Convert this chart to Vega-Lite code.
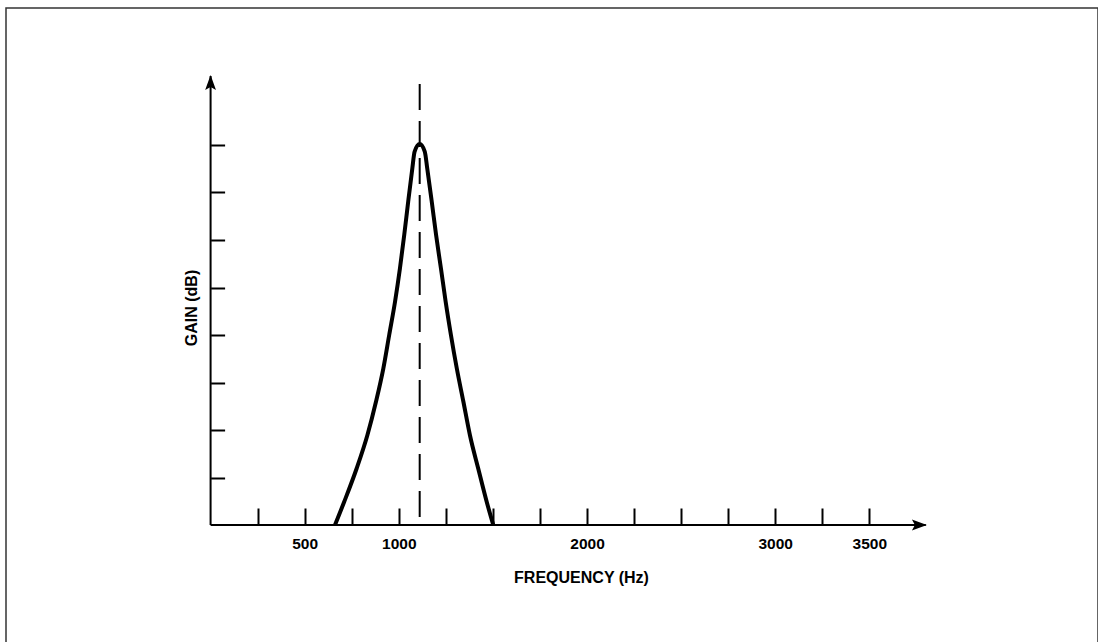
{
  "$schema": "https://vega.github.io/schema/vega-lite/v6.json",
  "width": 1092,
  "height": 640,
  "padding": {"left": 6, "top": 8, "right": 0, "bottom": 0},
  "background": "white",
  "config": {
    "view": {"stroke": "#333333", "strokeWidth": 1.5, "fill": "white"},
    "font": "Liberation Sans"
  },
  "encoding": {
    "x": {
      "field": "hz",
      "type": "quantitative",
      "scale": {"domain": [-1087, 4715], "nice": false, "zero": false},
      "axis": {
        "title": "FREQUENCY (Hz)",
        "values": [250, 500, 750, 1000, 1250, 1500, 1750, 2000, 2250, 2500, 2750, 3000, 3250, 3500],
        "labelExpr": "indexof([500,1000,2000,3000,3500], datum.value) >= 0 ? datum.value : ''",
        "offset": -123,
        "domain": false,
        "grid": false,
        "tickSize": -17,
        "tickWidth": 2,
        "tickColor": "black",
        "labelPadding": 28,
        "labelFont": "Liberation Sans",
        "labelFontWeight": "bold",
        "labelFontSize": 15.5,
        "labelColor": "black",
        "titleFont": "Liberation Sans",
        "titleFontWeight": "bold",
        "titleFontSize": 16,
        "titleColor": "black",
        "titleX": 575,
        "titleY": 57,
        "titleBaseline": "alphabetic",
        "titleAlign": "center"
      }
    },
    "y": {
      "field": "gain",
      "type": "quantitative",
      "scale": {"domain": [-2.589, 10.884], "nice": false, "zero": false},
      "axis": {
        "title": "GAIN (dB)",
        "values": [1, 2, 3, 4, 5, 6, 7, 8],
        "labels": false,
        "offset": -204.6,
        "domain": false,
        "grid": false,
        "tickSize": -14,
        "tickWidth": 2,
        "tickColor": "black",
        "titleFont": "Liberation Sans",
        "titleFontWeight": "bold",
        "titleFontSize": 16,
        "titleColor": "black",
        "titleX": -14,
        "titleY": 299.5,
        "titleAngle": 270,
        "titleBaseline": "alphabetic",
        "titleAlign": "center"
      }
    }
  },
  "layer": [
    {
      "data": {"values": [
        {"hz": 0, "gain": 0, "hz2": 3800, "gain2": 0},
        {"hz": 0, "gain": 0, "hz2": 0, "gain2": 9.45}
      ]},
      "mark": {"type": "rule", "stroke": "black", "strokeWidth": 2},
      "encoding": {
        "x2": {"field": "hz2"},
        "y2": {"field": "gain2"}
      }
    },
    {
      "data": {"values": [
        {"hz": 1111, "gain": 9.284, "gain2": 0}
      ]},
      "mark": {"type": "rule", "stroke": "black", "strokeWidth": 2, "strokeDash": [26, 11]},
      "encoding": {
        "y2": {"field": "gain2"}
      }
    },
    {
      "data": {"values": [
        {"hz": 661, "gain": 0},
        {"hz": 710, "gain": 0.49},
        {"hz": 776, "gain": 1.19},
        {"hz": 833, "gain": 1.89},
        {"hz": 879, "gain": 2.6},
        {"hz": 918, "gain": 3.3},
        {"hz": 949, "gain": 4.0},
        {"hz": 980, "gain": 4.7},
        {"hz": 1006, "gain": 5.4},
        {"hz": 1029, "gain": 6.11},
        {"hz": 1050, "gain": 6.81},
        {"hz": 1072, "gain": 7.51},
        {"hz": 1084, "gain": 7.86},
        {"hz": 1111, "gain": 8.02},
        {"hz": 1138, "gain": 7.86},
        {"hz": 1151, "gain": 7.51},
        {"hz": 1175, "gain": 6.81},
        {"hz": 1198, "gain": 6.11},
        {"hz": 1224, "gain": 5.4},
        {"hz": 1249, "gain": 4.7},
        {"hz": 1277, "gain": 4.0},
        {"hz": 1308, "gain": 3.3},
        {"hz": 1343, "gain": 2.6},
        {"hz": 1378, "gain": 1.89},
        {"hz": 1422, "gain": 1.19},
        {"hz": 1467, "gain": 0.49},
        {"hz": 1502, "gain": 0}
      ]},
      "mark": {"type": "line", "stroke": "black", "strokeWidth": 4, "interpolate": "monotone", "strokeJoin": "round"}
    },
    {
      "data": {"values": [{"hz": 3806, "gain": 0}]},
      "mark": {"type": "point", "shape": "M0,0L-1,-0.36L-0.8,0L-1,0.36Z", "size": 900, "filled": true, "color": "black", "opacity": 1, "strokeWidth": 0}
    },
    {
      "data": {"values": [{"hz": 0, "gain": 9.474}]},
      "mark": {"type": "point", "shape": "M0,0L-0.36,1L0,0.8L0.36,1Z", "size": 900, "filled": true, "color": "black", "opacity": 1, "strokeWidth": 0}
    }
  ]
}
